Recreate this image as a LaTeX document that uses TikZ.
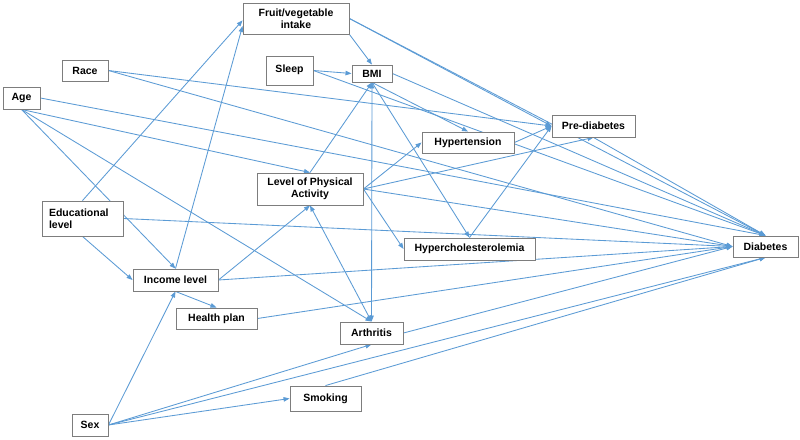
\documentclass[tikz,border=0pt]{standalone}
\usepackage{fontspec}
\setmainfont{Liberation Sans}
\usetikzlibrary{arrows.meta,calc}
\pgfdeclarelayer{bg}
\pgfsetlayers{bg,main}
\definecolor{edgeblue}{RGB}{91,155,213}
\definecolor{boxgray}{RGB}{125,125,125}
\begin{document}
\begin{tikzpicture}[x=1pt,y=-1pt,
  box/.style={draw=boxgray,line width=0.9pt,fill=white,inner sep=0pt,align=center,
    font=\fontsize{10.5}{12.5}\selectfont\bfseries},
  link/.style={draw=edgeblue,line width=0.85pt,-{Triangle[length=6pt,width=4.5pt]}},
  twoway/.style={draw=edgeblue,line width=0.85pt,{Triangle[length=6pt,width=4.5pt]}-{Triangle[length=6pt,width=4.5pt]}}]
\useasboundingbox (0,0) rectangle (800,439);
% nodes
\node[box,minimum width=106pt,minimum height=31pt] (fruit) at (296,18.5) {Fruit/vegetable\\intake};
\node[box,minimum width=46pt,minimum height=21pt] (race) at (85,70.5) {Race};
\node[box,minimum width=37pt,minimum height=22pt] (age) at (21.5,98) {Age};
\node[box,minimum width=47pt,minimum height=29pt] (sleep) at (289.5,70.5) {\raisebox{3.5pt}{Sleep}};
\node[box,minimum width=40pt,minimum height=17pt] (bmi) at (372,73.5) {BMI};
\node[box,minimum width=106pt,minimum height=32pt] (lpa) at (310,189) {Level of Physical\\Activity};
\node[box,minimum width=81pt,minimum height=35pt,text width=67pt,align=left] (edu) at (82.5,218.5) {Educational\\level};
\node[box,minimum width=85pt,minimum height=22pt] (income) at (175.5,280) {Income level};
\node[box,minimum width=81pt,minimum height=21pt] (health) at (216.5,318.5) {Health plan};
\node[box,minimum width=63pt,minimum height=22pt] (arth) at (371.5,333) {Arthritis};
\node[box,minimum width=71pt,minimum height=25pt] (smoking) at (325.5,398.5) {Smoking};
\node[box,minimum width=36pt,minimum height=22pt] (sex) at (90,425) {Sex};
\node[box,minimum width=92pt,minimum height=21pt] (hyper) at (468,142.5) {Hypertension};
\node[box,minimum width=83pt,minimum height=22pt] (pre) at (593.5,126) {Pre-diabetes};
\node[box,minimum width=131pt,minimum height=22pt] (chol) at (469.5,249) {Hypercholesterolemia};
\node[box,minimum width=65pt,minimum height=21pt] (diab) at (765.5,246.5) {Diabetes};
% connectors
\begin{pgfonlayer}{bg}
\fill[white] (0,0) rectangle (800,439);
\draw[link] (fruit.south east) -- (bmi.north);
\draw[link] (fruit.east) -- (pre.west);
\draw[link] (fruit.east) -- (diab.north);
\draw[link] (race.east) -- (pre.west);
\draw[link] (race.east) -- (diab.west);
\draw[link] (age.east) -- (diab.north);
\draw[link] (age.south) -- (lpa.north);
\draw[link] (age.south) -- (income.north);
\draw[link] (age.south) -- (arth.north);
\draw[link] (sleep.east) -- (bmi.west);
\draw[link] (sleep.east) -- (diab.north);
\draw[link] (bmi.east) -- (diab.north);
\draw[link] (bmi.south) -- (hyper.north);
\draw[link] (bmi.south) -- (chol.north);
\draw[link] (lpa.north) -- (bmi.south);
\draw[twoway] (bmi.south) -- (arth.north);
\draw[twoway] (lpa.south) -- (arth.north);
\draw[link] (lpa.east) -- (hyper.west);
\draw[link] (lpa.east) -- (pre.south);
\draw[link] (lpa.east) -- (chol.west);
\draw[link] (lpa.east) -- (diab.west);
\draw[link] (hyper.east) -- (pre.west);
\draw[link] (chol.north) -- (pre.west);
\draw[link] (pre.south) -- (diab.north);
\draw[link] (edu.north) -- (fruit.182);
\draw[link] (income.north) -- (fruit.188);
\draw[link] (edu.south) -- (income.west);
\draw[link] (edu.east) -- (diab.west);
\draw[link] (income.east) -- (lpa.south);
\draw[link] (income.east) -- (diab.west);
\draw[link] (income.south) -- (health.north);
\draw[link] (health.east) -- (diab.west);
\draw[link] (arth.east) -- (diab.west);
\draw[link] (sex.east) -- (income.south);
\draw[link] (sex.east) -- (arth.south);
\draw[link] (sex.east) -- (smoking.west);
\draw[link] (sex.east) -- (diab.south);
\draw[link] (smoking.north) -- (diab.south);
\end{pgfonlayer}
\end{tikzpicture}
\end{document}
